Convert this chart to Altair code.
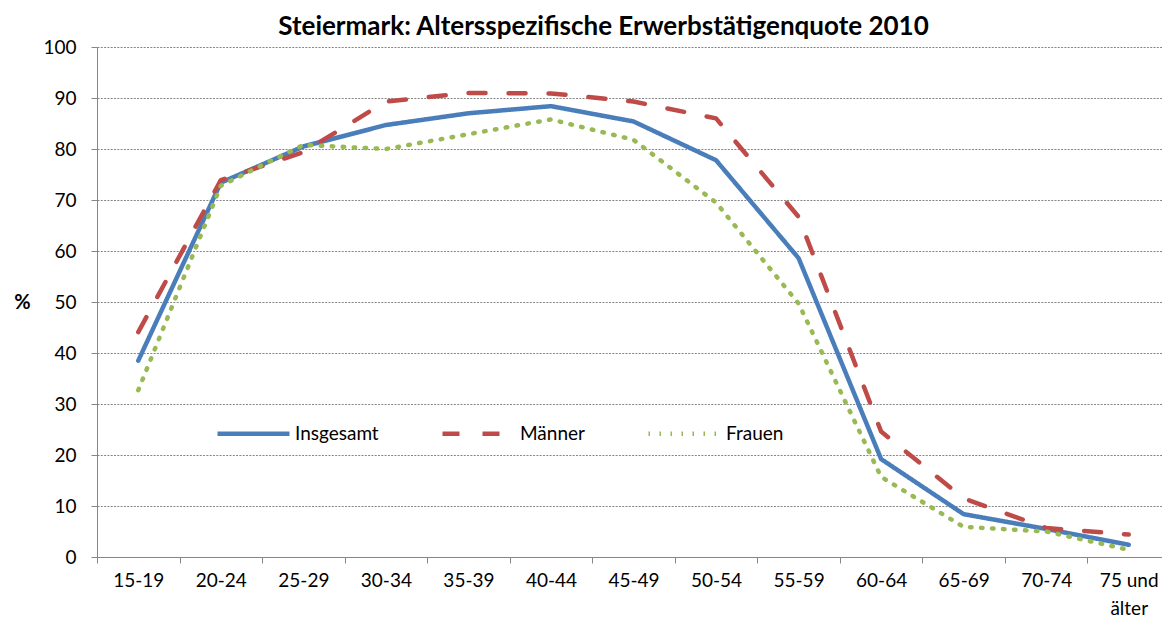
import altair as alt
import pandas as pd

ages = ["15-19", "20-24", "25-29", "30-34", "35-39", "40-44", "45-49",
        "50-54", "55-59", "60-64", "65-69", "70-74", "75 und älter"]
series = ["Insgesamt", "Männer", "Frauen"]
insgesamt = [38.5, 73.4, 80.5, 84.7, 87.0, 88.4, 85.4, 77.8, 58.6, 19.2, 8.4, 5.5, 2.4]
maenner = [44.1, 73.9, 79.4, 89.3, 91.0, 90.9, 89.3, 86.0, 66.7, 24.6, 11.5, 5.7, 4.4]
frauen = [32.7, 72.8, 80.8, 80.0, 82.9, 85.8, 81.8, 69.5, 49.7, 15.7, 5.9, 5.0, 1.4]

colors = ["#4A7EBB", "#BE4B48", "#98B954"]
dashes = [[1, 0], [17, 23], [1.5, 9.5]]

rows = []
for name, vals in zip(series, [insgesamt, maenner, frauen]):
    for a, v in zip(ages, vals):
        rows.append({"Alter": a, "Wert": v, "Gruppe": name})
df = pd.DataFrame(rows)

FONT = "Lato"


def make_legend():
    return alt.Legend(title=None, orient="none", legendX=118, legendY=348,
                      direction="horizontal", symbolType="stroke",
                      symbolSize=5184, symbolStrokeWidth=4.5,
                      labelFontSize=19, labelOffset=3, columnPadding=54)


chart = alt.Chart(df).mark_line(strokeWidth=4.5, strokeCap="round", strokeJoin="round").encode(
    x=alt.X("Alter:N", sort=ages, bandPosition=0.5,
            scale=alt.Scale(type="band", paddingInner=0, paddingOuter=0, range=[0, 1073]),
            axis=alt.Axis(title=None, labelAngle=0, tickBand="extent", tickSize=6,
                          labelPadding=8, grid=False, labelFontSize=19,
                          labelLineHeight=28, labelBaseline="top",
                          labelExpr="datum.label == '75 und älter' ? ['75 und', 'älter'] : datum.label")),
    y=alt.Y("Wert:Q", scale=alt.Scale(domain=[0, 100], nice=False),
            axis=alt.Axis(title="%", values=list(range(0, 101, 10)), tickSize=6,
                          labelPadding=15, labelFontSize=19, grid=True,
                          gridDash=[2, 1.3], gridColor="#868686", gridWidth=1,
                          titleAngle=0, titleX=-75, titleY=255, titleAlign="center",
                          titleBaseline="middle", titleFontSize=20, titleFontWeight="bold")),
    color=alt.Color("Gruppe:N", sort=series,
                    scale=alt.Scale(domain=series, range=colors),
                    legend=make_legend()),
    strokeDash=alt.StrokeDash("Gruppe:N", sort=series,
                              scale=alt.Scale(domain=series, range=dashes),
                              legend=make_legend()),
    order=alt.Order("Gruppe:N"),
).properties(
    width=1065,
    height=510,
    title=alt.TitleParams("Steiermark: Altersspezifische Erwerbstätigenquote 2010",
                          fontSize=26, fontWeight="bold", font=FONT, color="#000000",
                          anchor="middle", dx=-26, dy=12, offset=10),
    autosize=alt.AutoSizeParams(type="none"),
    padding={"left": 89, "top": 39, "right": 0, "bottom": 60},
    background="white",
).configure_view(stroke=None).configure_axis(
    domainColor="#868686", tickColor="#868686", labelColor="#000000",
    labelFont=FONT, titleFont=FONT, titleColor="#000000",
).configure_legend(labelFont=FONT, labelColor="#000000")

chart.save("out.html", embed_options={"renderer": "svg", "actions": False})
